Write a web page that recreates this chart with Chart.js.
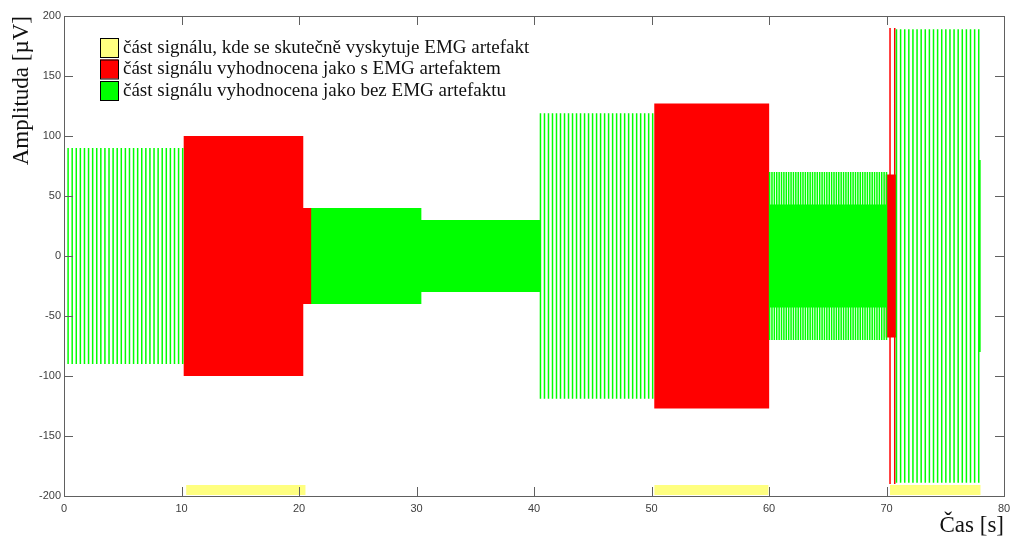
<!DOCTYPE html>
<html lang="cs">
<head>
  <meta charset="UTF-8">
  <title>EMG artefakt</title>
  <style>
    html, body { margin: 0; padding: 0; background: #fff; }
    canvas { display: block; }
  </style>
</head>
<body>
  <canvas id="emgChart" width="1011" height="540"></canvas>

  <script src="https://cdn.jsdelivr.net/npm/chart.js"></script>
  <script>
    // úseky signálu
    const segStart   = [0,    10.25, 20.3, 21.1,  30.35, 40.55, 50.3,  60.05, 60.05, 70.0, 70.3, 70.85, 77.95];
    const segEnd     = [10.1, 20.3,  21.1, 30.35, 40.5,  50.1,  59.95, 70.0,  70.0,  70.8, 70.7, 77.85, 77.95];
    const segAmp     = [90,   100,   40,   40,    30,    119,   127,   70,    43,    68,   190,  189,   80];
    const segStrokes = [30,   250,   20,   230,   250,   29,    240,   50,    250,   20,   2,    21,    1];
    const segClass   = ['bez', 's', 's', 'bez', 'bez', 'bez', 's', 'bez', 'bez', 's', 's', 'bez', 'bez'];

    // kde se skutečně vyskytuje artefakt
    const artStart = [10.4, 50.25, 70.3];
    const artEnd   = [20.55, 59.95, 78.0];
    const artLevel = -195;

    const legendLabels = [
      'část signálu, kde se skutečně vyskytuje EMG artefakt',
      'část signálu vyhodnocena jako s EMG artefaktem',
      'část signálu vyhodnocena jako bez EMG artefaktu'
    ];
    const legendColors = ['#ffff80', '#ff0000', '#00ff00'];

    const xTicks = { min: 0, max: 80, step: 10 };
    const yTicks = { min: -200, max: 200, step: 50 };

    // kmity jako svislé čáry (+A -> -A), oddělené mezerou
    const buildStrokes = (cls) => {
      let pts = [];
      for (let i = 0; i < segStart.length; i++) {
        if (segClass[i] !== cls) continue;
        const n = segStrokes[i];
        for (let k = 0; k < n; k++) {
          const x = n === 1 ? segStart[i] : segStart[i] + (segEnd[i] - segStart[i]) * k / (n - 1);
          pts.push({ x: x, y: segAmp[i] });
          pts.push({ x: x, y: -segAmp[i] });
          pts.push({ x: x, y: null });
        }
      }
      return pts;
    };

    let artPts = [];
    for (let i = 0; i < artStart.length; i++) {
      artPts.push({ x: artStart[i], y: artLevel });
      artPts.push({ x: artEnd[i], y: artLevel });
      artPts.push({ x: artEnd[i], y: null });
    }

    // rámeček, ticky dovnitř a legenda ve stylu MATLABu
    const matlabBox = {
      id: 'matlabBox',
      afterDraw(chart) {
        const { ctx, chartArea: a, scales: { x, y } } = chart;
        ctx.save();
        ctx.strokeStyle = '#606060';
        ctx.lineWidth = 1;
        ctx.strokeRect(a.left + 0.5, a.top + 0.5, a.right - a.left, a.bottom - a.top);
        ctx.beginPath();
        x.ticks.forEach(t => {
          const px = Math.round(x.getPixelForValue(t.value)) + 0.5;
          ctx.moveTo(px, a.bottom); ctx.lineTo(px, a.bottom - 9);
          ctx.moveTo(px, a.top); ctx.lineTo(px, a.top + 9);
        });
        y.ticks.forEach(t => {
          const py = Math.round(y.getPixelForValue(t.value)) + 0.5;
          ctx.moveTo(a.left, py); ctx.lineTo(a.left + 9, py);
          ctx.moveTo(a.right, py); ctx.lineTo(a.right - 9, py);
        });
        ctx.stroke();

        // legenda
        ctx.font = '19px "Liberation Serif", "Times New Roman", serif';
        ctx.textBaseline = 'middle';
        ctx.textAlign = 'left';
        legendLabels.forEach((lab, i) => {
          const top = 38 + i * 21.5;
          ctx.fillStyle = legendColors[i];
          ctx.fillRect(100, top, 18, 19);
          ctx.strokeStyle = '#000';
          ctx.strokeRect(100.5, top + 0.5, 18, 19);
          ctx.fillStyle = '#111';
          ctx.fillText(lab, 123, top + 10);
        });
        ctx.restore();
      }
    };

    const ctx = document.getElementById('emgChart');
    new Chart(ctx, {
      type: 'line',
      data: {
        datasets: [
          {
            label: legendLabels[0],
            data: artPts,
            borderColor: legendColors[0],
            borderWidth: 10,
            borderCapStyle: 'butt',
            pointRadius: 0,
            spanGaps: false
          },
          {
            label: legendLabels[2],
            data: buildStrokes('bez'),
            borderColor: legendColors[2],
            borderWidth: 1.5,
            pointRadius: 0,
            spanGaps: false
          },
          {
            label: legendLabels[1],
            data: buildStrokes('s'),
            borderColor: legendColors[1],
            borderWidth: 1.5,
            pointRadius: 0,
            spanGaps: false
          }
        ]
      },
      options: {
        responsive: false,
        animation: false,
        layout: { padding: { left: 0, right: 7, top: 16, bottom: 0 } },
        plugins: {
          legend: { display: false },
          tooltip: { enabled: false }
        },
        scales: {
          x: {
            type: 'linear',
            min: xTicks.min, max: xTicks.max,
            grid: { display: false, drawTicks: false },
            border: { display: false },
            ticks: {
              stepSize: xTicks.step,
              padding: 6,
              color: '#404040',
              font: { family: '"Liberation Sans", Arial, sans-serif', size: 11 }
            },
            title: {
              display: true,
              text: 'Čas [s]',
              align: 'end',
              color: '#111',
              padding: { top: 0, bottom: 0 },
              font: { family: '"Liberation Serif", "Times New Roman", serif', size: 23 }
            },
            afterFit: (s) => { s.height = 44; s.paddingLeft = 0; s.paddingRight = 0; }
          },
          y: {
            min: yTicks.min, max: yTicks.max,
            grid: { display: false, drawTicks: false },
            border: { display: false },
            ticks: {
              stepSize: yTicks.step,
              padding: 3,
              color: '#404040',
              font: { family: '"Liberation Sans", Arial, sans-serif', size: 11 }
            },
            title: {
              display: true,
              text: 'Amplituda [µV]',
              align: 'end',
              color: '#111',
              padding: { top: 8, bottom: 0 },
              font: { family: '"Liberation Serif", "Times New Roman", serif', size: 23 }
            },
            afterFit: (s) => { s.width = 64; }
          }
        }
      },
      plugins: [matlabBox]
    });
  </script>
</body>
</html>
